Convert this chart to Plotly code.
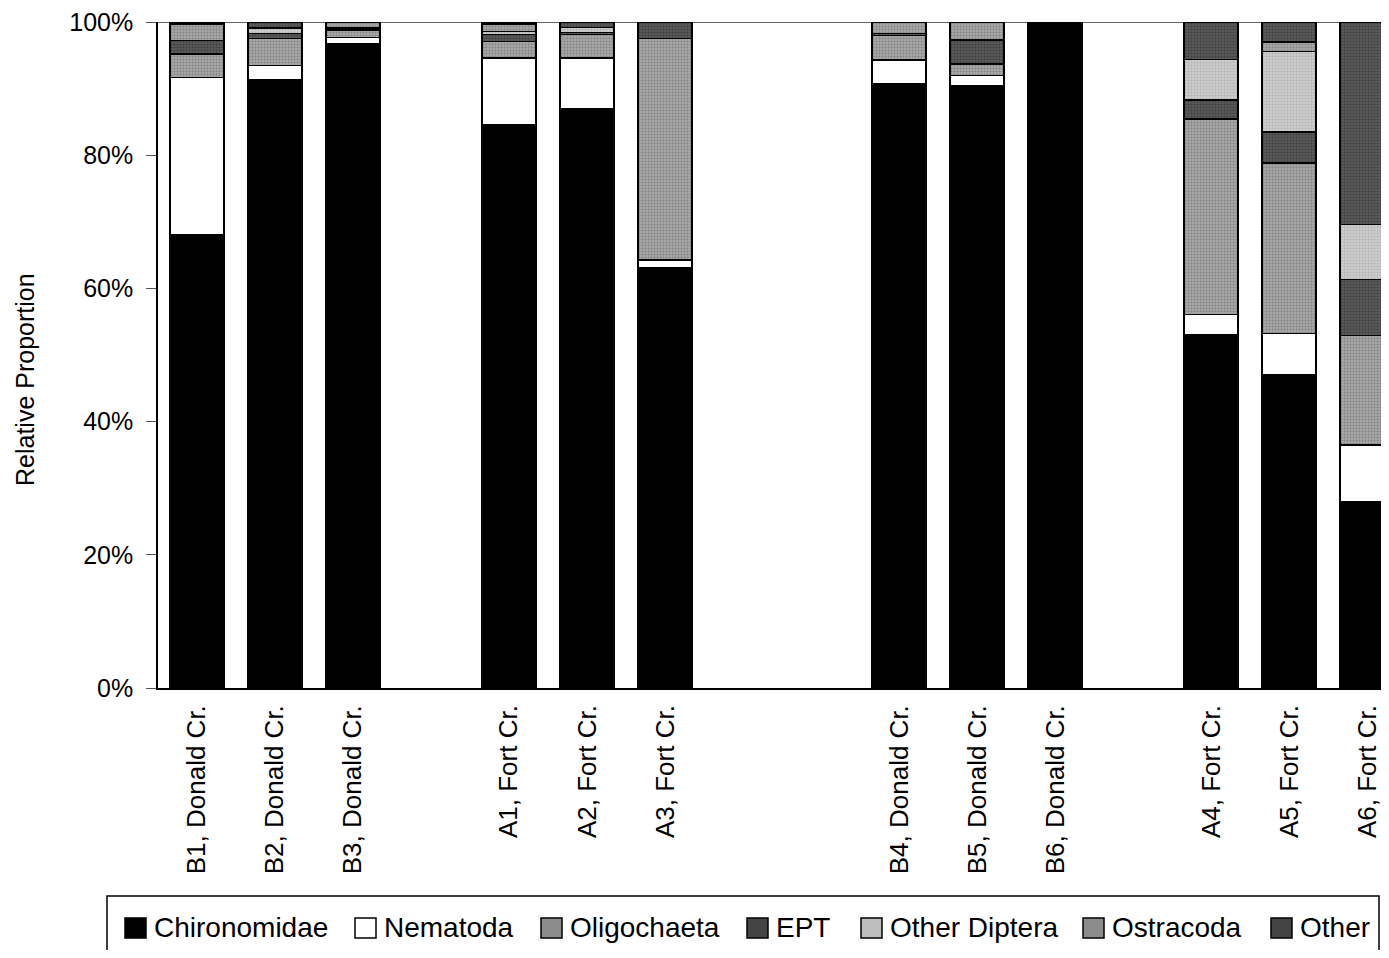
import plotly.graph_objects as go

sites = ["B1, Donald Cr.", "B2, Donald Cr.", "B3, Donald Cr.",
         "A1, Fort Cr.", "A2, Fort Cr.", "A3, Fort Cr.",
         "B4, Donald Cr.", "B5, Donald Cr.", "B6, Donald Cr.",
         "A4, Fort Cr.", "A5, Fort Cr.", "A6, Fort Cr."]
# slot positions (empty slots separate the groups)
slots = [0, 1, 2, 4, 5, 6, 9, 10, 11, 13, 14, 15]

chironomidae = [68.0, 91.3, 96.8, 84.5, 87.0, 63.1, 90.7, 90.5, 100.0, 53.1, 47.0, 28.0]
nematoda     = [23.7, 2.2, 0.9, 10.1, 7.6, 1.2, 3.6, 1.5, 0.0, 3.0, 6.2, 8.5]
oligochaeta  = [3.5, 4.0, 1.1, 2.5, 3.5, 33.2, 3.7, 1.7, 0.0, 29.3, 25.6, 16.4]
ept          = [2.0, 0.8, 0.3, 1.0, 0.3, 0.0, 0.3, 3.5, 0.0, 2.9, 4.7, 8.4]
other_diptera= [0.0, 0.8, 0.0, 0.5, 0.8, 0.0, 0.0, 0.2, 0.0, 6.1, 12.1, 8.3]
ostracoda    = [2.5, 0.0, 0.8, 1.1, 0.0, 0.0, 1.7, 2.6, 0.0, 0.0, 1.4, 0.0]
other        = [0.3, 0.9, 0.1, 0.3, 0.8, 2.5, 0.0, 0.0, 0.0, 5.6, 3.0, 30.4]

y_ticks = [0, 20, 40, 60, 80, 100]

MID = dict(color="#8c8c8c", pattern=dict(shape=".", fgcolor="#5a5a5a", bgcolor="#a8a8a8", size=3, solidity=0.35))
DARK = dict(color="#404040", pattern=dict(shape=".", fgcolor="#222222", bgcolor="#5a5a5a", size=3, solidity=0.35))
LIGHT = dict(color="#bdbdbd", pattern=dict(shape=".", fgcolor="#999999", bgcolor="#cccccc", size=3, solidity=0.35))

series = [
    ("Chironomidae", chironomidae, dict(color="#000000"), "#000000"),
    ("Nematoda", nematoda, dict(color="#ffffff"), "#ffffff"),
    ("Oligochaeta", oligochaeta, MID, "#8c8c8c"),
    ("EPT", ept, DARK, "#444444"),
    ("Other Diptera", other_diptera, LIGHT, "#bdbdbd"),
    ("Ostracoda", ostracoda, MID, "#8c8c8c"),
    ("Other", other, DARK, "#444444"),
]

fig = go.Figure()
for name, vals, mk, _ in series:
    marker = dict(mk)
    marker["line"] = dict(color="#000000", width=1.5)
    fig.add_trace(go.Bar(x=slots, y=vals, name=name, marker=marker, width=0.69,
                         showlegend=False))

W, H = 1381, 942
ML, MR, MT, MB = 150, 0, 14, 262
OFF = 8  # body margin of the page
# page coords -> paper coords
PL = ML + OFF
PW = W - ML - MR
PB = OFF + H - MB
PH = H - MT - MB
def px(x):
    return (x - PL) / PW
def py(y):
    return (PB - y) / PH

font_family = "Liberation Sans, Arial, sans-serif"
shapes = []
annotations = []
# legend box
shapes.append(dict(type="rect", xref="paper", yref="paper", x0=px(107), x1=px(1379),
                   y0=py(896), y1=py(990), line=dict(color="#000000", width=1.5),
                   fillcolor="white", layer="above"))
legend_x = [125, 355, 541, 747, 861, 1083, 1271]
for (name, _, _, col), lx in zip(series, legend_x):
    shapes.append(dict(type="rect", xref="paper", yref="paper",
                       x0=px(lx), x1=px(lx + 21), y0=py(938), y1=py(918),
                       line=dict(color="#000000", width=1.5), fillcolor=col, layer="above"))
    annotations.append(dict(xref="paper", yref="paper", x=px(lx + 27), y=py(928),
                            xanchor="left", yanchor="middle", text=name, showarrow=False,
                            font=dict(size=28, family=font_family, color="#000000")))
# y-axis title
annotations.append(dict(xref="paper", yref="paper", x=px(25), y=py(380),
                        xanchor="center", yanchor="middle", textangle=-90,
                        text="Relative Proportion", showarrow=False,
                        font=dict(size=25, family=font_family, color="#000000")))
# top border line at 100%
shapes.append(dict(type="line", xref="paper", yref="y", x0=0, x1=1, y0=100, y1=100,
                   line=dict(color="#333333", width=1.5), layer="below"))

fig.update_layout(
    barmode="stack",
    width=W, height=H,
    margin=dict(l=ML, r=MR, t=MT, b=MB, autoexpand=False),
    paper_bgcolor="white", plot_bgcolor="white",
    font=dict(family=font_family, color="#000000"),
    showlegend=False,
    shapes=shapes,
    annotations=annotations,
)
fig.update_xaxes(
    range=[-0.5, 15.28], tickmode="array", tickvals=slots, ticktext=sites,
    tickangle=-90, tickfont=dict(size=26), showline=True, linecolor="#000000",
    linewidth=1.5, showgrid=False, ticks="", zeroline=False, ticklabelstandoff=5,
    automargin=False, ticklabeloverflow="allow",
)
fig.update_yaxes(
    range=[0, 100], tickmode="array", tickvals=y_ticks,
    ticktext=[f"{v}%" for v in y_ticks], tickfont=dict(size=25),
    showline=True, linecolor="#000000", linewidth=1.5, ticks="outside",
    ticklen=10, tickcolor="#555555", showgrid=False, zeroline=False,
    ticklabelstandoff=8, ticklabeloverflow="allow", automargin=False,
)
fig.write_html("out.html")
